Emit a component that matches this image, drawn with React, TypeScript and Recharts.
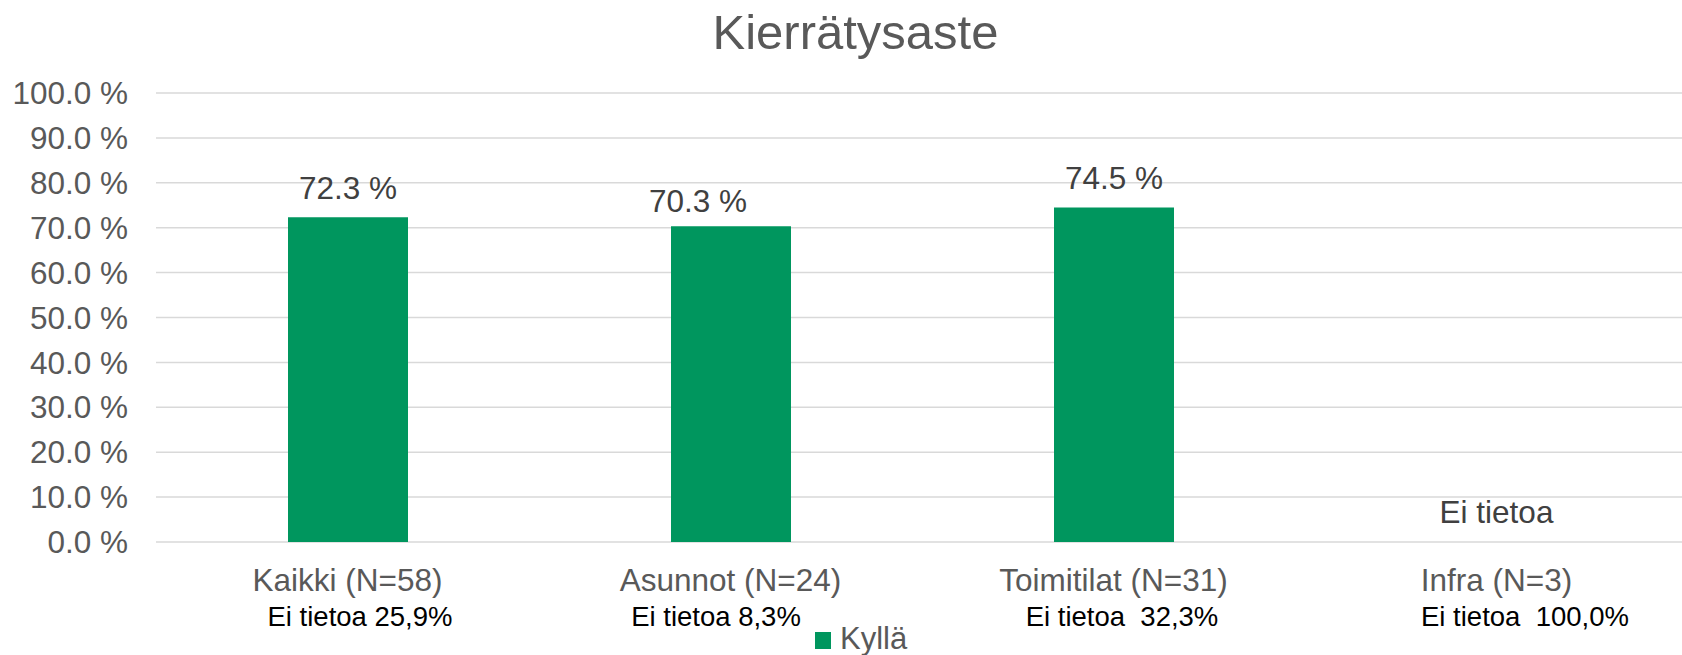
import React from 'react';
import { BarChart, Bar, XAxis, YAxis, CartesianGrid, LabelList, Legend } from 'recharts';

const categories = ['Kaikki (N=58)', 'Asunnot (N=24)', 'Toimitilat (N=31)', 'Infra (N=3)'];
const kyllaValues = [72.3, 70.3, 74.5, 0];
const notes = ['Ei tietoa 25,9%', 'Ei tietoa 8,3%', 'Ei tietoa  32,3%', 'Ei tietoa  100,0%'];
const yTicks = [0, 10, 20, 30, 40, 50, 60, 70, 80, 90, 100];
const seriesName = 'Kyllä';
const title = 'Kierrätysaste';
const noDataLabel = 'Ei tietoa';

const data = categories.map((c, i) => ({ name: c, value: kyllaValues[i], note: notes[i] }));

const FONT = '"Liberation Sans", Arial, Helvetica, sans-serif';
const GREEN = '#00965E';
// manual text-box offsets (styling only)
const NOTE_DX = [12.5, -14.5, 8.5, 28.5];
const LABEL_DX = [0, -33, 0, 0];
const LABEL_DY = [0, 4, 0, 0];

const XTick = (props: any) => {
  const { x, y, payload, index } = props;
  const note = notes[index] ?? '';
  const noData = kyllaValues[index] === 0;
  return (
    <g>
      {noData && (
        <text x={x} y={y - 19} textAnchor="middle" fill="#404040" fontSize={31.5} fontFamily={FONT}>
          {noDataLabel}
        </text>
      )}
      <text x={x} y={y + 49} textAnchor="middle" fill="#595959" fontSize={31.5} fontFamily={FONT}>
        {payload.value}
      </text>
      <text x={x + (NOTE_DX[index] ?? 0)} y={y + 84} textAnchor="middle" fill="#000000" fontSize={27.5} fontFamily={FONT} style={{ whiteSpace: 'pre' }}>
        {note}
      </text>
    </g>
  );
};

const BarLabel = (props: any) => {
  const { x, y, width, value, index } = props;
  if (value === 0 || value == null) return null;
  return (
    <text
      x={Number(x) + Number(width) / 2 + (LABEL_DX[index] ?? 0)}
      y={Number(y) - 18 + (LABEL_DY[index] ?? 0)}
      textAnchor="middle"
      fill="#404040"
      fontSize={31.5}
      fontFamily={FONT}
    >
      {`${Number(value).toFixed(1)} %`}
    </text>
  );
};

const LegendContent = () => (
  <div style={{ display: 'flex', alignItems: 'center', fontFamily: FONT, fontSize: 31, lineHeight: '31px', color: '#595959', whiteSpace: 'nowrap' }}>
    <span style={{ display: 'inline-block', width: 16, height: 17, background: GREEN, marginRight: 9, marginTop: 4 }} />
    <span>{seriesName}</span>
  </div>
);

export default function App() {
  return (
    <div style={{ position: 'relative', width: 1682, height: 655, background: '#fff', overflow: 'hidden' }}>
      <style>{`body{margin:0;}`}</style>
      <div
        style={{
          position: 'absolute',
          left: 855.5,
          top: 7.5,
          transform: 'translateX(-50%)',
          fontFamily: FONT,
          fontSize: 49,
          lineHeight: '49px',
          color: '#595959',
          whiteSpace: 'nowrap',
          zIndex: 2,
        }}
      >
        {title}
      </div>
      <BarChart width={1688} height={655} data={data} margin={{ top: 93, right: 0, bottom: 0, left: 0 }} barCategoryGap={0}>
        <CartesianGrid vertical={false} stroke="#D9D9D9" strokeWidth={1.5} />
        <YAxis
          type="number"
          domain={[0, 100]}
          ticks={yTicks}
          interval={0}
          width={156}
          axisLine={false}
          tickLine={false}
          tickSize={0}
          tickMargin={28}
          tick={{ fill: '#595959', fontSize: 31.5, fontFamily: FONT }}
          tickFormatter={(v: number) => `${v.toFixed(1)} %`}
        />
        <XAxis
          dataKey="name"
          height={113}
          axisLine={false}
          tickLine={false}
          tickSize={0}
          tickMargin={0}
          interval={0}
          tick={<XTick />}
        />
        <Legend
          layout="horizontal"
          verticalAlign="middle"
          align="center"
          content={<LegendContent />}
          wrapperStyle={{ top: 623, left: 815, width: 'auto', height: 'auto' }}
        />
        <Bar dataKey="value" name={seriesName} fill={GREEN} barSize={120} isAnimationActive={false}>
          <LabelList dataKey="value" content={<BarLabel />} />
        </Bar>
      </BarChart>
    </div>
  );
}
